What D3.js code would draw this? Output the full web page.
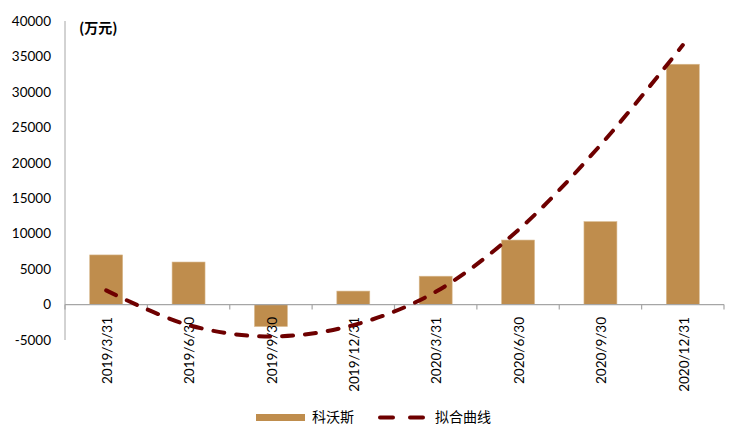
<!DOCTYPE html>
<html><head><meta charset="utf-8">
<script src="https://cdn.jsdelivr.net/npm/d3@7"></script>
<style>body{margin:0;background:#fff}svg{display:block}</style>
</head><body>
<svg id="c" width="732" height="429"></svg>
<script>
const categories = ["2019/3/31","2019/6/30","2019/9/30","2019/12/31","2020/3/31","2020/6/30","2020/9/30","2020/12/31"];
const barValues = [7000, 6000, -3100, 1900, 4000, 9100, 11700, 33900];
const fitValues = [2000, -2900, -4500, -2900, 1800, 10500, 22500, 36600];
const yTicks = [-5000, 0, 5000, 10000, 15000, 20000, 25000, 30000, 35000, 40000];
const unitLabel = "(万元)";
const seriesNames = ["科沃斯", "拟合曲线"];

const svg = d3.select("#c");
const left = 65, right = 724;
const x = d3.scaleBand().domain(categories).range([left, right]).paddingInner(0).paddingOuter(0);
const y = d3.scaleLinear().domain([-5000, 40000]).range([340, 21]);
const axisColor = "#a6a6a6";
const barColor = "#BF8D4D";
const lineColor = "#6E0000";
const numFont = "Lato, 'Open Sans', sans-serif";
const cjkFont = "'Noto Sans CJK SC', sans-serif";

// y axis line
svg.append("line").attr("x1", left).attr("x2", left).attr("y1", y(40000)).attr("y2", y(-5000))
  .attr("stroke", axisColor).attr("stroke-width", 1);
// y tick labels
svg.append("g").selectAll("text").data(yTicks).join("text")
  .attr("x", 51).attr("y", d => y(d)).attr("dy", "0.35em")
  .attr("text-anchor", "end").attr("font-family", numFont).attr("font-size", 13.5)
  .attr("fill", "#000").text(d => d);

// bars
const bw = x.bandwidth() * 0.4;
svg.append("g").selectAll("rect").data(barValues).join("rect")
  .attr("x", (d, i) => x(categories[i]) + x.bandwidth() / 2 - bw / 2)
  .attr("width", bw)
  .attr("y", d => y(Math.max(0, d)))
  .attr("height", d => Math.abs(y(d) - y(0)))
  .attr("fill", barColor).attr("stroke", "#D9B98F").attr("stroke-width", 0.6);

// x axis line at zero
svg.append("line").attr("x1", left).attr("x2", right).attr("y1", y(0)).attr("y2", y(0))
  .attr("stroke", axisColor).attr("stroke-width", 1.2);
// ticks at band boundaries
const bounds = categories.map(c => x(c)).concat([right]);
svg.append("g").selectAll("line").data(bounds).join("line")
  .attr("x1", d => d).attr("x2", d => d).attr("y1", y(0)).attr("y2", y(0) + 5)
  .attr("stroke", axisColor).attr("stroke-width", 1.2);
// x labels
svg.append("g").selectAll("text").data(categories).join("text")
  .attr("transform", d => `translate(${x(d) + x.bandwidth() / 2 + 1},317) rotate(-90)`)
  .attr("dy", "0.35em").attr("text-anchor", "end")
  .attr("font-family", numFont).attr("font-size", 13.5).attr("fill", "#000").text(d => d);

// fit curve
const line = d3.line()
  .x((d, i) => x(categories[i]) + x.bandwidth() / 2)
  .y(d => y(d))
  .curve(d3.curveCatmullRom.alpha(0.5));
svg.append("path").datum(fitValues).attr("d", line)
  .attr("fill", "none").attr("stroke", lineColor).attr("stroke-width", 4)
  .attr("stroke-dasharray", "11,12").attr("stroke-linecap", "round");

// unit label
svg.append("text").attr("x", 79).attr("y", 28).attr("dy", "0.35em")
  .attr("font-family", cjkFont).attr("font-size", 14).attr("font-weight", "bold")
  .attr("fill", "#000").text(unitLabel);

// legend
const lg = svg.append("g");
lg.append("rect").attr("x", 256).attr("y", 414).attr("width", 49).attr("height", 7).attr("fill", barColor);
lg.append("text").attr("x", 312).attr("y", 417.5).attr("dy", "0.35em")
  .attr("font-family", cjkFont).attr("font-size", 14).attr("fill", "#000").text(seriesNames[0]);
lg.append("line").attr("x1", 380).attr("x2", 423).attr("y1", 417.5).attr("y2", 417.5)
  .attr("stroke", lineColor).attr("stroke-width", 4).attr("stroke-linecap", "round")
  .attr("stroke-dasharray", "13,17");
lg.append("text").attr("x", 435).attr("y", 417.5).attr("dy", "0.35em")
  .attr("font-family", cjkFont).attr("font-size", 14).attr("fill", "#000").text(seriesNames[1]);
</script>
</body></html>
